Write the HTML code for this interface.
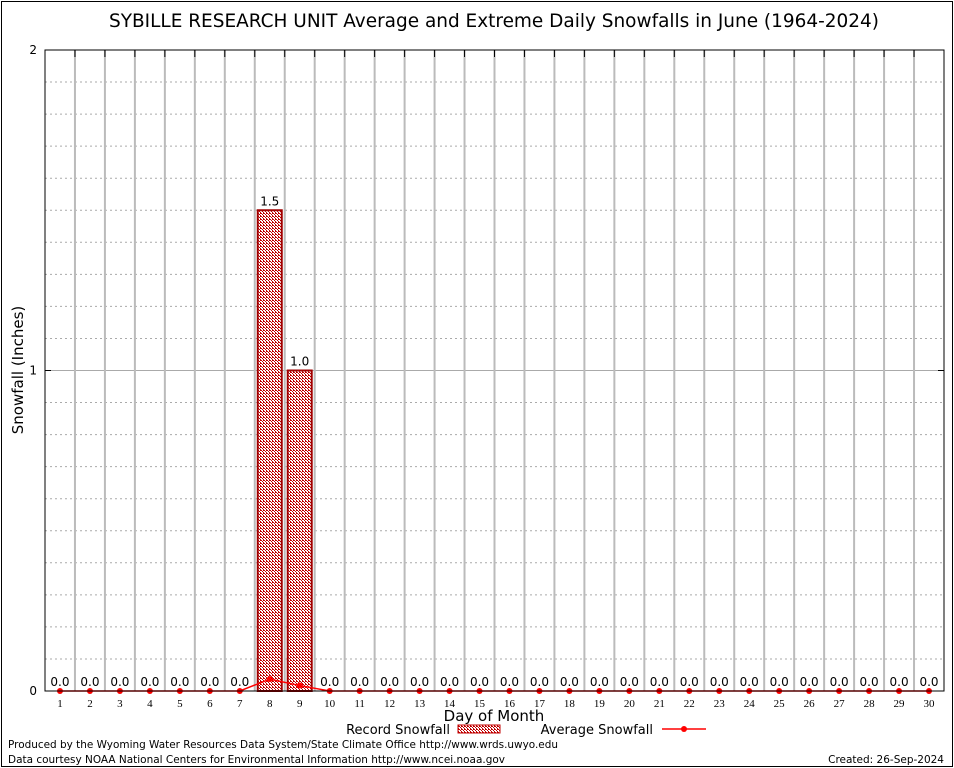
<!DOCTYPE html>
<html><head><meta charset="utf-8"><style>
body{margin:0;background:#fff}
svg{display:block;font-family:"DejaVu Sans","Liberation Sans",sans-serif}
</style></head><body>
<svg id="c" width="954" height="768">
<defs><pattern id="hatch" width="3" height="3" patternUnits="userSpaceOnUse"><rect width="3" height="3" fill="#fff"/><rect width="1" height="1" fill="#c00000"/><rect x="1" y="1" width="1" height="1" fill="#c00000"/><rect x="2" y="2" width="1" height="1" fill="#c00000"/><rect x="2" y="0" width="1" height="1" fill="#c00000"/></pattern></defs>
<rect x="1.5" y="1.5" width="951" height="765" fill="none" stroke="#000"/>
<text x="494" y="27" font-size="18.3" text-anchor="middle" textLength="770" lengthAdjust="spacingAndGlyphs">SYBILLE RESEARCH UNIT Average and Extreme Daily Snowfalls in June (1964-2024)</text>
<g id="grid"></g><g id="bars"></g><g id="avg"></g><g id="axes"></g>
<text transform="translate(23,370) rotate(-90)" font-size="15" text-anchor="middle">Snowfall (Inches)</text>
<text x="494" y="721" font-size="15" text-anchor="middle">Day of Month</text>
<g>
<text x="450" y="734" font-size="13" text-anchor="end">Record Snowfall</text>
<rect x="458" y="725" width="42" height="8" fill="url(#hatch)" stroke="#c00000"/>
<text x="653" y="734" font-size="13" text-anchor="end">Average Snowfall</text>
<line x1="662" y1="729" x2="706" y2="729" stroke="#ff0000" stroke-width="1.5"/>
<circle cx="684" cy="729" r="3" fill="#ff0000"/>
</g>
<text x="8" y="748" font-size="10.5" textLength="550" lengthAdjust="spacingAndGlyphs">Produced by the Wyoming Water Resources Data System/State Climate Office http://www.wrds.uwyo.edu</text>
<text x="8" y="763" font-size="10.5" textLength="497" lengthAdjust="spacingAndGlyphs">Data courtesy NOAA National Centers for Environmental Information http://www.ncei.noaa.gov</text>
<text x="944" y="763" font-size="10.5" text-anchor="end">Created: 26-Sep-2024</text>
</svg>
<script>
const days=[1,2,3,4,5,6,7,8,9,10,11,12,13,14,15,16,17,18,19,20,21,22,23,24,25,26,27,28,29,30];
const recordSnow=[0,0,0,0,0,0,0,1.5,1.0,0,0,0,0,0,0,0,0,0,0,0,0,0,0,0,0,0,0,0,0,0];
const avgSnow=[0,0,0,0,0,0,0,0.037,0.017,0,0,0,0,0,0,0,0,0,0,0,0,0,0,0,0,0,0,0,0,0];
const yTicks=[0,1,2];
const L=45,R=944,T=50,B=691,yMax=2;
const bw=(R-L)/days.length;
const x=d=>L+bw*(d-0.5);
const y=v=>B-(v/yMax)*(B-T);
const NS="http://www.w3.org/2000/svg";
function mk(tag,attrs,parent){const e=document.createElementNS(NS,tag);for(const k in attrs)e.setAttribute(k,attrs[k]);document.getElementById(parent).appendChild(e);return e;}
for(let v=0.1;v<yMax-0.001;v+=0.1){if(Math.abs(v-1)<0.001)continue;const g=mk('line',{x1:L,x2:R,y1:y(v),y2:y(v),stroke:'#aaa','stroke-dasharray':'2,3','stroke-width':1},'grid');

}
const g1=mk('line',{x1:L,x2:R,y1:y(1),y2:y(1),stroke:'#aaa','stroke-width':1},'grid');


for(let i=1;i<days.length;i++){const gx=L+bw*i;const g=mk('line',{x1:gx,x2:gx,y1:T,y2:B,stroke:'#bbb','stroke-width':2},'grid');


mk('line',{x1:gx,x2:gx,y1:T,y2:T+7,stroke:'#000'},'axes');}
days.forEach((d,i)=>{const v=recordSnow[i];
if(v>0){const r=mk('rect',{x:x(d)-12,y:y(v),width:24,height:B-y(v),fill:'url(#hatch)',stroke:'#a00000','stroke-width':2},'bars');

}
const t=mk('text',{x:x(d),y:y(v)-5,'font-size':12,'text-anchor':'middle'},'bars');t.textContent=v.toFixed(1);


const lt=mk('text',{x:x(d),y:B+16,'font-size':11,'text-anchor':'middle','font-family':'Liberation Serif, serif'},'axes');lt.textContent=d;

});
const pl=mk('polyline',{points:days.map((d,i)=>x(d)+','+y(avgSnow[i])).join(' '),fill:'none',stroke:'#ff0000','stroke-width':1.5},'avg');


days.forEach((d,i)=>{const c=mk('circle',{cx:x(d),cy:y(avgSnow[i]),r:3,fill:'#ff0000'},'avg');

});
const fr=mk('rect',{x:L,y:T,width:R-L,height:B-T,fill:'none',stroke:'#000','stroke-width':1},'axes');


yTicks.forEach(v=>{mk('line',{x1:L,x2:L+6,y1:y(v),y2:y(v),stroke:'#000'},'axes');mk('line',{x1:R-6,x2:R,y1:y(v),y2:y(v),stroke:'#000'},'axes');
const t=mk('text',{x:L-8,y:y(v)+4,'font-size':12,'text-anchor':'end'},'axes');t.textContent=v;

});
</script>
</body></html>
